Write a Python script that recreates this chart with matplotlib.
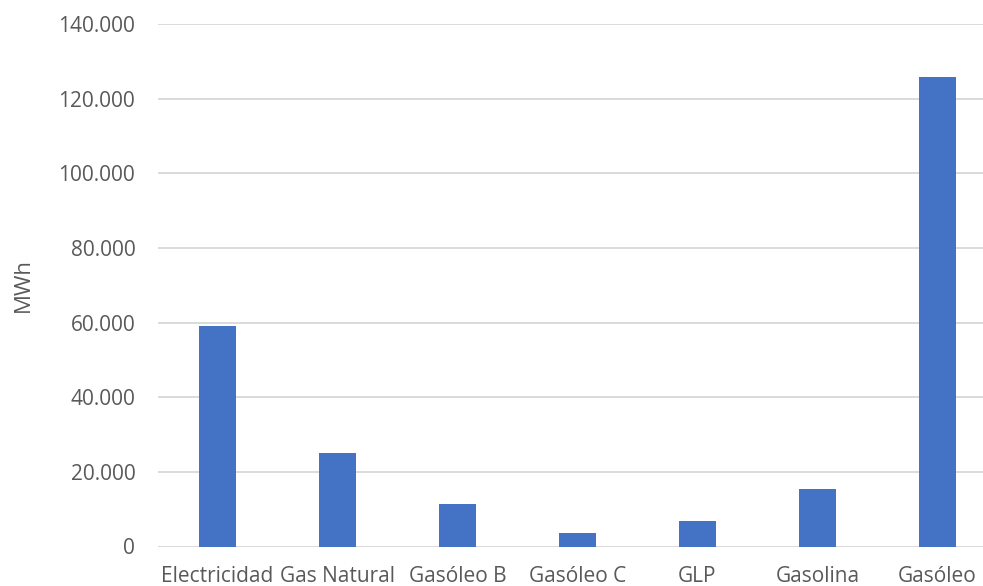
import matplotlib.pyplot as plt
from matplotlib.ticker import FuncFormatter

# consumo por tipo de energía (MWh)
categorias = ['Electricidad', 'Gas Natural', 'Gasóleo B', 'Gasóleo C', 'GLP', 'Gasolina', 'Gasóleo']
consumo_mwh = [59000, 25000, 11500, 3600, 6800, 15500, 125800]
marcas_y = [0, 20000, 40000, 60000, 80000, 100000, 120000, 140000]

plt.rcParams['font.family'] = ['Open Sans', 'DejaVu Sans']
gris = '#595959'

fig = plt.figure(figsize=(9.83, 5.86), dpi=100)
W, H = 983, 586
ax = fig.add_axes([157.5 / W, (H - 546.5) / H, 840 / W, 522.5 / H])

x = range(len(categorias))
ax.bar(x, consumo_mwh, width=0.31, color='#4472C4', zorder=3)

ax.set_xlim(-0.5, len(categorias) - 0.5)
ax.set_ylim(0, 140000)
ax.set_yticks(marcas_y)
ax.yaxis.set_major_formatter(FuncFormatter(lambda v, p: f'{int(v):,}'.replace(',', '.')))
ax.set_xticks(list(x))
ax.set_xticklabels(categorias)
ax.grid(axis='y', color='#d4d4d4', linewidth=1.2, zorder=0)
for s in ax.spines.values():
    s.set_visible(False)
ax.tick_params(axis='both', length=0, labelsize=15, colors=gris)
ax.tick_params(axis='y', pad=16)
ax.tick_params(axis='x', pad=14)
ax.set_ylabel('MWh', fontsize=16, color=gris, labelpad=18)

fig.savefig('out.png', dpi=100)
